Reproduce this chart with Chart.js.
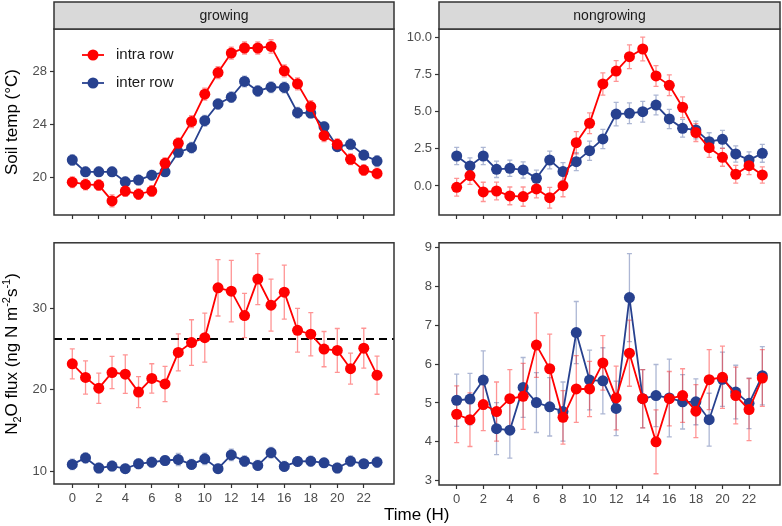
<!DOCTYPE html>
<html>
<head>
<meta charset="utf-8">
<script src="https://cdn.jsdelivr.net/npm/chart.js@4.4.0/dist/chart.umd.min.js"></script>
<style>
  body { margin: 0; background: #fff; }
  #wrap { position: relative; width: 782px; height: 526px; overflow: hidden; font-family: "Liberation Sans", Arial, sans-serif; }
  canvas { position: absolute; }
  .lbl { position: absolute; color: #000; font-size: 17px; white-space: nowrap; line-height: 1; }
  .ytitle { transform: translate(-50%, -50%) rotate(-90deg); }
  sub, sup { font-size: 11px; line-height: 0; }
</style>
</head>
<body>
<div id="wrap">
  <canvas id="tl" width="400" height="232" style="left:0;top:0;width:400px;height:232px"></canvas>
  <canvas id="tr" width="382" height="232" style="left:400px;top:0;width:382px;height:232px"></canvas>
  <canvas id="bl" width="400" height="294" style="left:0;top:232px;width:400px;height:294px"></canvas>
  <canvas id="br" width="382" height="294" style="left:400px;top:232px;width:382px;height:294px"></canvas>
  <div class="lbl ytitle" style="left:11px;top:122px">Soil temp (°C)</div>
  <div class="lbl ytitle" style="left:11px;top:354px">N<sub>2</sub>O flux (ng N m<sup>-2</sup>s<sup>-1</sup>)</div>
  <div class="lbl" style="left:384px;top:506px">Time (H)</div>
</div>
<script>
const hours = [0, 1, 2, 3, 4, 5, 6, 7, 8, 9, 10, 11, 12, 13, 14, 15, 16, 17, 18, 19, 20, 21, 22, 23];
const hourTicks = [0, 2, 4, 6, 8, 10, 12, 14, 16, 18, 20, 22];

// soil temperature, growing season
const tempGrowIntra = [19.67, 19.5, 19.45, 18.26, 19.0, 18.77, 19.0, 21.09, 22.6, 24.23, 26.29, 27.92,
  29.39, 29.77, 29.77, 29.89, 28.05, 27.07, 25.36, 23.17, 22.52, 21.39, 20.58, 20.33];
const tempGrowIntraErr = [0.4, 0.4, 0.4, 0.45, 0.4, 0.4, 0.4, 0.4, 0.4, 0.45, 0.45, 0.45,
  0.45, 0.45, 0.45, 0.5, 0.45, 0.45, 0.45, 0.45, 0.4, 0.4, 0.4, 0.4];
const tempGrowInter = [21.34, 20.45, 20.45, 20.45, 19.7, 19.83, 20.2, 20.45, 21.92, 22.27, 24.3, 25.56,
  26.07, 27.25, 26.54, 26.82, 26.8, 24.9, 24.87, 23.85, 22.34, 22.52, 21.71, 21.26];
const tempGrowInterErr = [0.4, 0.35, 0.35, 0.35, 0.35, 0.35, 0.35, 0.35, 0.35, 0.4, 0.4, 0.4,
  0.4, 0.4, 0.4, 0.4, 0.4, 0.4, 0.35, 0.35, 0.35, 0.4, 0.35, 0.4];
const tempGrowTicks = [20, 24, 28];

// soil temperature, nongrowing season
const tempNonIntra = [-0.09, 0.7, -0.4, -0.34, -0.67, -0.72, -0.2, -0.79, 0.02, 2.92, 4.23, 6.88,
  7.75, 8.72, 9.24, 7.42, 6.79, 5.31, 3.6, 2.58, 1.93, 0.79, 1.37, 0.74];
const tempNonIntraErr = [0.6, 0.6, 0.65, 0.6, 0.6, 0.65, 0.6, 0.7, 0.75, 0.75, 0.7, 0.75,
  0.7, 0.8, 0.8, 0.7, 0.7, 0.7, 0.6, 0.65, 0.6, 0.6, 0.6, 0.55];
const tempNonInter = [2.02, 1.35, 2.02, 1.12, 1.19, 1.08, 0.52, 1.75, 0.97, 1.64, 2.38, 3.17,
  4.85, 4.9, 5.01, 5.46, 4.52, 3.89, 3.78, 2.99, 3.15, 2.16, 1.75, 2.2];
const tempNonInterErr = [0.58, 0.55, 0.58, 0.55, 0.55, 0.55, 0.55, 0.6, 0.6, 0.6, 0.65, 0.65,
  0.79, 0.7, 0.7, 0.67, 0.65, 0.6, 0.6, 0.6, 0.6, 0.55, 0.55, 0.6];
const tempNonTicks = [0, 2.5, 5, 7.5, 10];

// N2O flux, growing season
const fluxGrowIntra = [23.17, 21.5, 20.18, 22.1, 21.9, 19.7, 21.38, 20.7, 24.57, 25.77, 26.37, 32.48,
  32.07, 29.08, 33.55, 30.36, 31.95, 27.28, 26.8, 24.97, 24.81, 22.57, 25.09, 21.78];
const fluxGrowIntraErr = [1.84, 2.04, 1.86, 1.98, 2.36, 1.9, 1.8, 2.16, 2.26, 2.8, 3.0, 3.45,
  3.77, 2.71, 3.13, 3.19, 3.31, 2.69, 2.65, 2.16, 2.69, 1.9, 2.44, 2.34];
const fluxGrowInter = [10.84, 11.64, 10.4, 10.64, 10.32, 10.92, 11.12, 11.32, 11.44, 10.84, 11.52, 10.32,
  12.0, 11.24, 10.72, 12.28, 10.6, 11.2, 11.24, 11.04, 10.4, 11.24, 10.92, 11.12];
const fluxGrowInterErr = [0.65, 0.6, 0.6, 0.6, 0.55, 0.6, 0.6, 0.6, 0.75, 0.6, 0.7, 0.55,
  0.7, 0.65, 0.6, 0.65, 0.6, 0.6, 0.6, 0.55, 0.6, 0.65, 0.55, 0.65];
const fluxGrowMean = 26.2;
const fluxGrowTicks = [10, 20, 30];

// N2O flux, nongrowing season
const fluxNonIntra = [4.71, 4.57, 4.96, 4.78, 5.11, 5.17, 6.49, 5.88, 4.63, 5.36, 5.36, 6.03,
  5.13, 6.28, 5.11, 4.0, 5.11, 5.19, 4.79, 5.6, 5.66, 5.19, 4.83, 5.64];
const fluxNonIntraErr = [0.73, 0.69, 0.67, 0.76, 0.75, 0.85, 0.83, 0.89, 0.69, 0.86, 0.71, 0.7,
  0.82, 0.85, 0.75, 0.82, 0.7, 0.69, 0.68, 0.77, 0.8, 0.73, 0.8, 0.73];
const fluxNonInter = [5.07, 5.1, 5.59, 4.34, 4.3, 5.4, 5.01, 4.9, 4.78, 6.81, 5.59, 5.57,
  4.86, 7.71, 5.11, 5.19, 5.13, 5.03, 5.03, 4.57, 5.61, 5.28, 4.99, 5.7];
const fluxNonInterErr = [0.67, 0.66, 0.75, 0.67, 0.72, 0.77, 0.77, 0.75, 0.76, 0.8, 0.77, 0.85,
  0.7, 1.13, 0.75, 0.8, 1.0, 0.7, 0.59, 0.68, 0.7, 0.69, 0.65, 0.75];
const fluxNonTicks = [3, 4, 5, 6, 7, 8, 9];

const seriesNames = ["intra row", "inter row"];
const RED = "#ff0000";
const BLUE = "#27418f";
const RED_ERR = "rgba(255, 0, 0, 0.42)";
const BLUE_ERR = "rgba(39, 65, 143, 0.38)";

Chart.defaults.font.family = "'Liberation Sans', Arial, sans-serif";
Chart.defaults.font.size = 13;
Chart.defaults.color = "#4d4d4d";

const panelDeco = {
  id: "panelDeco",
  beforeDatasetsDraw(chart, args, opts) {
    const { ctx, chartArea } = chart;
    const xs = chart.scales.x;
    const ys = chart.scales.y;
    if (opts.refLine != null) {
      const py = ys.getPixelForValue(opts.refLine);
      ctx.save();
      ctx.strokeStyle = "#000";
      ctx.lineWidth = 2;
      ctx.setLineDash([8, 5]);
      ctx.beginPath();
      ctx.moveTo(chartArea.left, py);
      ctx.lineTo(chartArea.right, py);
      ctx.stroke();
      ctx.restore();
    }
    // error bars, drawn under the points
    chart.data.datasets.slice().reverse().forEach((ds) => {
      if (!ds.errs) return;
      ctx.save();
      ctx.strokeStyle = ds.errColor;
      ctx.lineWidth = 1.3;
      ds.data.forEach((p, i) => {
        const px = xs.getPixelForValue(p.x);
        const top = ys.getPixelForValue(p.y + ds.errs[i]);
        const bot = ys.getPixelForValue(p.y - ds.errs[i]);
        ctx.beginPath();
        ctx.moveTo(px, top);
        ctx.lineTo(px, bot);
        ctx.moveTo(px - 2.5, top);
        ctx.lineTo(px + 2.5, top);
        ctx.moveTo(px - 2.5, bot);
        ctx.lineTo(px + 2.5, bot);
        ctx.stroke();
      });
      ctx.restore();
    });
  },
  afterDraw(chart, args, opts) {
    const { ctx, chartArea } = chart;
    ctx.save();
    ctx.strokeStyle = "#333";
    ctx.lineWidth = 1.5;
    ctx.strokeRect(chartArea.left, chartArea.top, chartArea.right - chartArea.left, chartArea.bottom - chartArea.top);
    if (opts.strip) {
      const h = chartArea.top - 2;
      ctx.fillStyle = "#d9d9d9";
      ctx.fillRect(chartArea.left, 2, chartArea.right - chartArea.left, h);
      ctx.strokeRect(chartArea.left, 2, chartArea.right - chartArea.left, h);
      ctx.fillStyle = "#1a1a1a";
      ctx.font = "14px 'Liberation Sans', Arial, sans-serif";
      ctx.textAlign = "center";
      ctx.textBaseline = "middle";
      ctx.fillText(opts.strip, (chartArea.left + chartArea.right) / 2, 2 + h / 2 + 1);
    }
    if (opts.legend) {
      const items = [[seriesNames[0], RED], [seriesNames[1], BLUE]];
      items.forEach(([name, col], k) => {
        const y = chartArea.top + 26 + k * 28;
        const x = chartArea.left + 39;
        ctx.strokeStyle = col;
        ctx.lineWidth = 1.8;
        ctx.beginPath();
        ctx.moveTo(x - 11, y);
        ctx.lineTo(x + 11, y);
        ctx.stroke();
        ctx.fillStyle = col;
        ctx.beginPath();
        ctx.arc(x, y, 5.5, 0, Math.PI * 2);
        ctx.fill();
        ctx.fillStyle = "#1a1a1a";
        ctx.font = "15px 'Liberation Sans', Arial, sans-serif";
        ctx.textAlign = "left";
        ctx.textBaseline = "middle";
        ctx.fillText(name, x + 23, y);
      });
    }
    ctx.restore();
  },
};

function series(label, vals, errs, color, errColor) {
  return {
    label,
    data: hours.map((h, i) => ({ x: h, y: vals[i] })),
    errs,
    errColor,
    borderColor: color,
    backgroundColor: color,
    borderWidth: 1.8,
    pointRadius: 5.5,
    pointHoverRadius: 5.5,
    pointBorderWidth: 0,
    tension: 0,
  };
}

function makePanel(id, p) {
  return new Chart(document.getElementById(id), {
    type: "line",
    data: {
      datasets: [
        series(seriesNames[0], p.intra, p.intraErr, RED, RED_ERR),
        series(seriesNames[1], p.inter, p.interErr, BLUE, BLUE_ERR),
      ],
    },
    options: {
      responsive: false,
      animation: false,
      events: [],
      layout: { autoPadding: false, padding: { top: p.top, right: p.right, left: 0, bottom: 0 } },
      plugins: {
        legend: { display: false },
        tooltip: { enabled: false },
        panelDeco: { strip: p.strip, legend: p.legend, refLine: p.refLine },
      },
      scales: {
        x: {
          type: "linear",
          min: p.xMin,
          max: p.xMax,
          afterBuildTicks: (s) => { s.ticks = hourTicks.map((v) => ({ value: v })); },
          afterFit: (s) => { s.height = p.xHeight; },
          ticks: { display: p.xLabels, padding: 3, color: "#4d4d4d", font: { size: 13 } },
          grid: { drawOnChartArea: false, drawTicks: true, tickLength: 4, tickColor: "#333", tickWidth: 1.2 },
          border: { display: false },
        },
        y: {
          type: "linear",
          min: p.yMin,
          max: p.yMax,
          afterBuildTicks: (s) => { s.ticks = p.yTicks.map((v) => ({ value: v })); },
          afterFit: (s) => { s.width = p.yWidth; },
          ticks: { padding: 3, color: "#4d4d4d", font: { size: 13 }, callback: p.fmt },
          grid: { drawOnChartArea: false, drawTicks: true, tickLength: 4, tickColor: "#333", tickWidth: 1.2 },
          border: { display: false },
        },
      },
    },
    plugins: [panelDeco],
  });
}

makePanel("tl", {
  intra: tempGrowIntra, intraErr: tempGrowIntraErr, inter: tempGrowInter, interErr: tempGrowInterErr,
  yMin: 17.2, yMax: 31.2, yTicks: tempGrowTicks, fmt: (v) => v.toFixed(0),
  xMin: -1.38, xMax: 24.28, top: 29, right: 6, yWidth: 54, xHeight: 17, xLabels: false,
  strip: "growing", legend: true,
});
makePanel("tr", {
  intra: tempNonIntra, intraErr: tempNonIntraErr, inter: tempNonInter, interErr: tempNonInterErr,
  yMin: -1.96, yMax: 10.59, yTicks: tempNonTicks, fmt: (v) => v.toFixed(1),
  xMin: -1.33, xMax: 24.33, top: 29, right: 2, yWidth: 39, xHeight: 17, xLabels: false,
  strip: "nongrowing",
});
makePanel("bl", {
  intra: fluxGrowIntra, intraErr: fluxGrowIntraErr, inter: fluxGrowInter, interErr: fluxGrowInterErr,
  yMin: 8.44, yMax: 38.0, yTicks: fluxGrowTicks, fmt: (v) => v.toFixed(0),
  xMin: -1.38, xMax: 24.28, top: 5, right: 6, yWidth: 54, xHeight: 42, xLabels: true,
  refLine: fluxGrowMean,
});
makePanel("br", {
  intra: fluxNonIntra, intraErr: fluxNonIntraErr, inter: fluxNonInter, interErr: fluxNonInterErr,
  yMin: 2.89, yMax: 9.12, yTicks: fluxNonTicks, fmt: (v) => v.toFixed(0),
  xMin: -1.33, xMax: 24.33, top: 5, right: 2, yWidth: 39, xHeight: 41, xLabels: true,
});
</script>
</body>
</html>
